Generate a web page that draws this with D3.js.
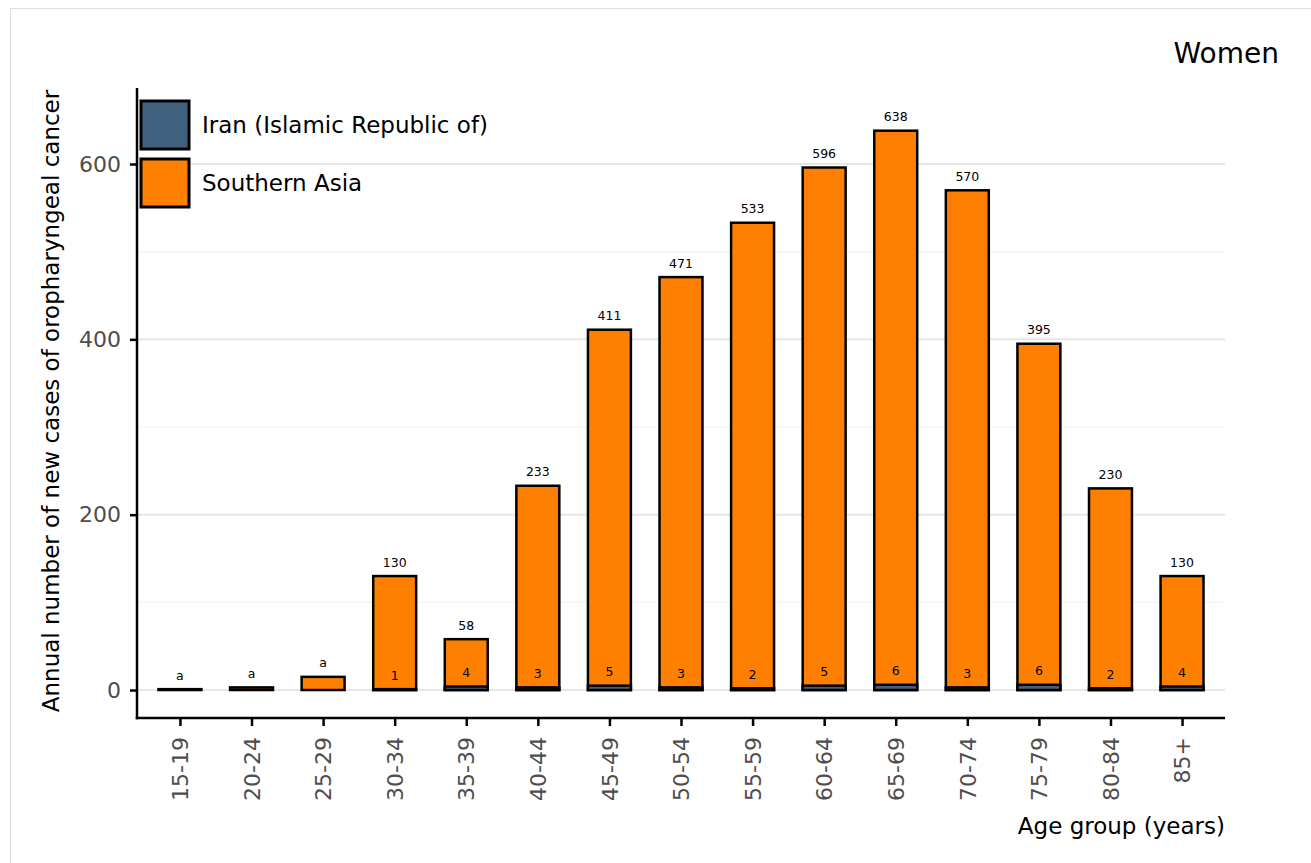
<!DOCTYPE html>
<html><head><meta charset="utf-8">
<script src="https://cdn.jsdelivr.net/npm/d3@7"></script>
<style>body{margin:0;background:#fff}svg{display:block;font-family:"DejaVu Sans",sans-serif}</style>
</head><body><svg id="c" width="1311" height="863"></svg>
<script>
const ageGroups = ["15-19","20-24","25-29","30-34","35-39","40-44","45-49","50-54","55-59","60-64","65-69","70-74","75-79","80-84","85+"];
const southernAsia = [1,3,15,130,58,233,411,471,533,596,638,570,395,230,130];
const iran = [0,0,0,1,4,3,5,3,2,5,6,3,6,2,4];
const southernAsiaLabels = ["a","a","a","130","58","233","411","471","533","596","638","570","395","230","130"];
const iranLabels = ["","","","1","4","3","5","3","2","5","6","3","6","2","4"];
const yTicks = [0,200,400,600];
const yMinor = [100,300,500];
const seriesNames = ["Iran (Islamic Republic of)","Southern Asia"];
const seriesColors = ["#41627e","#ff8000"];

const svg = d3.select("#c");
svg.append("rect").attr("x",10.5).attr("y",8.5).attr("width",1330).attr("height",900)
  .attr("fill","none").attr("stroke","#dcdcdc").attr("stroke-width",1);

const pL=137, pR=1225, pT=88, pB=718;
const x = d3.scalePoint().domain(ageGroups).range([pL,pR]).padding(0.6);
const y = d3.scaleLinear().domain([-31.9,686.7]).range([pB,pT]);
const bw = x.step()*0.6;

// grid
svg.append("g").selectAll("line").data(yMinor).join("line")
  .attr("x1",pL).attr("x2",pR).attr("y1",d=>y(d)).attr("y2",d=>y(d))
  .attr("stroke","#f4f4f4").attr("stroke-width",1.5);
svg.append("g").selectAll("line").data(yTicks).join("line")
  .attr("x1",pL).attr("x2",pR).attr("y1",d=>y(d)).attr("y2",d=>y(d))
  .attr("stroke","#e6e6e6").attr("stroke-width",2);

// bars
const data = ageGroups.map((g,i)=>({g,sa:southernAsia[i],ir:iran[i],sl:southernAsiaLabels[i],il:iranLabels[i]}));
svg.append("g").selectAll("rect").data(data).join("rect")
  .attr("x",d=>x(d.g)-bw/2).attr("width",bw)
  .attr("y",d=>y(d.sa)).attr("height",d=>y(0)-y(d.sa))
  .attr("fill",seriesColors[1]).attr("stroke","#000").attr("stroke-width",2.5);
svg.append("g").selectAll("rect").data(data).join("rect")
  .attr("x",d=>x(d.g)-bw/2).attr("width",bw)
  .attr("y",d=>y(d.ir)).attr("height",d=>y(0)-y(d.ir))
  .attr("fill",seriesColors[0]).attr("stroke","#000").attr("stroke-width",2.5);

// labels
svg.append("g").selectAll("text").data(data).join("text")
  .attr("x",d=>x(d.g)).attr("y",d=>y(d.sa)-9.5).attr("text-anchor","middle")
  .attr("font-size",12.5).attr("fill","#000").text(d=>d.sl);
svg.append("g").selectAll("text").data(data.filter(d=>d.il!=="")).join("text")
  .attr("x",d=>x(d.g)).attr("y",d=>y(d.ir)-9.5).attr("text-anchor","middle")
  .attr("font-size",12.5).attr("fill","#000").text(d=>d.il);

// axes
const ya = svg.append("g").attr("transform",`translate(${pL},0)`)
  .call(d3.axisLeft(y).tickValues(yTicks).tickSize(7).tickPadding(9));
ya.select(".domain").remove();
ya.selectAll(".tick line").attr("stroke","#000").attr("stroke-width",2.5);
ya.selectAll(".tick text").attr("font-size",22).attr("fill","#4d4d4d").attr("font-family","DejaVu Sans");

const xa = svg.append("g").attr("transform",`translate(0,${pB})`)
  .call(d3.axisBottom(x).tickSize(8).tickPadding(8));
xa.select(".domain").remove();
xa.selectAll(".tick line").attr("stroke","#000").attr("stroke-width",2.5);
xa.selectAll(".tick text").attr("font-size",22).attr("fill","#4d4d4d").attr("font-family","DejaVu Sans")
  .attr("transform","rotate(-90)").attr("text-anchor","end").attr("dy","0.35em").attr("x",-19).attr("y",0);

svg.append("line").attr("x1",pL).attr("x2",pL).attr("y1",pT).attr("y2",pB+1.25)
  .attr("stroke","#000").attr("stroke-width",2.5);
svg.append("line").attr("x1",pL-1.25).attr("x2",pR).attr("y1",pB).attr("y2",pB)
  .attr("stroke","#000").attr("stroke-width",2.5);

// titles
svg.append("text").attr("x",1279).attr("y",63).attr("text-anchor","end").attr("font-size",28).text("Women");
svg.append("text").attr("x",pR).attr("y",834).attr("text-anchor","end").attr("font-size",23).text("Age group (years)");
svg.append("text").attr("transform",`translate(59,401) rotate(-90)`).attr("text-anchor","middle")
  .attr("font-size",23).text("Annual number of new cases of oropharyngeal cancer");

// legend
const lg = svg.append("g").selectAll("g").data(seriesNames).join("g")
  .attr("transform",(d,i)=>`translate(141,${101+i*58})`);
lg.append("rect").attr("width",48).attr("height",48).attr("fill",(d,i)=>seriesColors[i])
  .attr("stroke","#000").attr("stroke-width",3);
lg.append("text").attr("x",61).attr("y",32).attr("font-size",23).text(d=>d);
</script></body></html>
